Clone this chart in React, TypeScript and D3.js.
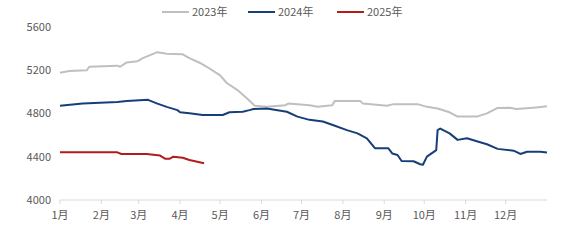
import React from "react";
import * as d3 from "d3";

// Day-of-year index (0 = Jan 1, 365 = year end) and price values
const days2023 = [0, 7, 20, 22, 43, 45, 50, 58, 62, 73, 80, 92, 97, 105, 110, 120, 125, 133, 140, 146, 155, 169, 171, 187, 193, 204, 206, 225, 227, 245, 250, 268, 275, 283, 292, 298, 313, 320, 328, 337, 342, 357, 365];
const values2023 = [5175, 5190, 5197, 5230, 5240, 5230, 5270, 5280, 5310, 5365, 5350, 5345, 5310, 5265, 5230, 5150, 5080, 5015, 4940, 4870, 4860, 4875, 4890, 4875, 4860, 4875, 4915, 4915, 4890, 4870, 4885, 4885, 4860, 4845, 4810, 4770, 4772, 4800, 4850, 4852, 4840, 4855, 4865];

const days2024 = [0, 17, 43, 50, 66, 73, 80, 88, 90, 97, 107, 122, 127, 137, 142, 145, 155, 170, 178, 187, 197, 205, 215, 223, 230, 236, 246, 249, 253, 256, 265, 270, 272, 275, 282, 283, 285, 292, 298, 305, 313, 320, 328, 340, 345, 350, 360, 365];
const values2024 = [4870, 4890, 4905, 4915, 4925, 4890, 4860, 4830, 4810, 4800, 4785, 4785, 4810, 4815, 4830, 4840, 4845, 4815, 4770, 4740, 4725, 4690, 4645, 4615, 4570, 4478, 4478, 4430, 4415, 4360, 4358, 4330, 4325, 4400, 4460, 4645, 4660, 4615, 4555, 4570, 4540, 4515, 4472, 4455, 4425, 4445, 4445, 4438];

const days2025 = [0, 43, 46, 65, 75, 79, 82, 85, 92, 97, 108];
const values2025 = [4440, 4440, 4425, 4425, 4410, 4380, 4380, 4400, 4390, 4370, 4340];

const monthStarts = [0, 31, 59, 90, 120, 151, 181, 212, 243, 273, 304, 334];
const monthLabels = ["1月", "2月", "3月", "4月", "5月", "6月", "7月", "8月", "9月", "10月", "11月", "12月"];
const yTicks = [4000, 4400, 4800, 5200, 5600];

const seriesNames = ["2023年", "2024年", "2025年"];
const seriesColors = ["#bfbfbf", "#163f7a", "#b11c1c"];

export default function App() {
  const width = 583;
  const height = 243;
  const x = d3.scaleLinear().domain([0, 365]).range([60, 547]);
  const y = d3.scaleLinear().domain([4000, 5600]).range([200, 26.7]);
  const line = d3
    .line<[number, number]>()
    .x((d) => x(d[0]))
    .y((d) => y(d[1]));

  const series = [
    d3.zip(days2023, values2023) as [number, number][],
    d3.zip(days2024, values2024) as [number, number][],
    d3.zip(days2025, values2025) as [number, number][],
  ];

  const font = "'Microsoft YaHei', 'Noto Sans CJK SC', 'Noto Sans', sans-serif";
  const legendX = [162, 248, 337];

  return (
    <svg
      width={width}
      height={height}
      style={{ position: "absolute", left: 0, top: 0, background: "#fff" }}
      fontFamily={font}
    >
      {/* legend */}
      {seriesNames.map((n, i) => (
        <g key={n}>
          <line x1={legendX[i]} x2={legendX[i] + 27} y1={12} y2={12} stroke={seriesColors[i]} strokeWidth={2} />
          <text x={legendX[i] + 30} y={16} fontSize={11} fill="#595959">
            {n}
          </text>
        </g>
      ))}

      {/* y tick labels */}
      {yTicks.map((t) => (
        <text key={t} x={51} y={y(t) + 4} fontSize={11} fill="#595959" textAnchor="end">
          {t}
        </text>
      ))}

      {/* x axis */}
      <line x1={x(0)} x2={x(365)} y1={y(4000)} y2={y(4000)} stroke="#d9d9d9" strokeWidth={1} />
      {monthStarts.map((m, i) => (
        <g key={m}>
          <line x1={x(m)} x2={x(m)} y1={y(4000)} y2={y(4000) + 4} stroke="#d9d9d9" strokeWidth={1} />
          <text x={x(m)} y={219} fontSize={11} fill="#595959" textAnchor="middle">
            {monthLabels[i]}
          </text>
        </g>
      ))}

      {/* lines */}
      {series.map((s, i) => (
        <path
          key={i}
          d={line(s) || ""}
          fill="none"
          stroke={seriesColors[i]}
          strokeWidth={2}
          strokeLinejoin="round"
        />
      ))}
    </svg>
  );
}
